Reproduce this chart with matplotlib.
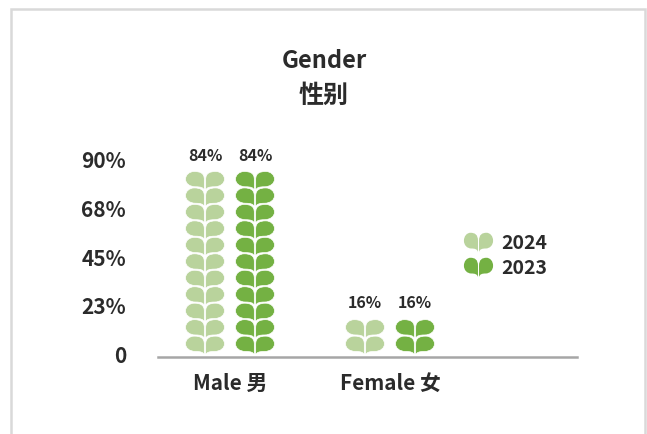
import matplotlib
matplotlib.use('Agg')
import matplotlib.pyplot as plt
from matplotlib.lines import Line2D
from matplotlib.patches import PathPatch, Rectangle
from matplotlib.path import Path
from matplotlib.transforms import Affine2D, ScaledTranslation

categories = ['Male 男', 'Female 女']
series_names = ['2024', '2023']
values_2024 = [84, 16]
values_2023 = [84, 16]
y_ticks = [0, 22.5, 45, 67.5, 90]
y_tick_labels = ['0', '23%', '45%', '68%', '90%']

COLOR_2024 = '#b9d39c'
COLOR_2023 = '#74b143'
TEXT = '#2b2b2b'
CJK = ['Noto Sans CJK TC', 'DejaVu Sans']
UNIT = 7.6
W, H = 647, 434


def heart_path():
    # one pair of leaves, x from -1 to 1, y from -0.15 (tip) to 1
    right = [
        (0.035, -0.15), (0.07, 0.03), (0.25, 0.07), (0.48, 0.07),
        (0.80, 0.07), (1.0, 0.28), (1.0, 0.53),
        (1.0, 0.80), (0.80, 1.0), (0.55, 1.0),
        (0.25, 1.0), (0.035, 0.90), (0.035, 0.52),
    ]
    left = [(-x, y) for x, y in reversed(right)]
    codes = [Path.MOVETO] + [Path.CURVE4] * 12 + [Path.CLOSEPOLY]
    verts_r = right + [right[0]]
    verts_l = left + [left[0]]
    return Path(verts_r + verts_l, codes + codes)


LEAF = heart_path()


def draw_stack(ax, x, value, half_width, color):
    for i in range(int(value // UNIT)):
        tr = Affine2D().scale(half_width, UNIT).translate(x, 1.8 + i * UNIT)
        ax.add_patch(PathPatch(LEAF.transformed(tr), facecolor=color, edgecolor='white',
                               linewidth=0.5, clip_on=False))
    ax.text(x, value + 4.9, f'{value}%', ha='center', va='bottom', fontsize=11.5,
            fontweight='bold', family=CJK, color=TEXT)


fig = plt.figure(figsize=(W / 100, H / 100), dpi=100)
fig.patch.set_facecolor('white')
fig.add_artist(Rectangle((11 / W, -0.05), 634 / W, 1.05 - 9 / H, transform=fig.transFigure,
                         facecolor='white', edgecolor='#d9d9d9', linewidth=1.8, zorder=-5))

ax = fig.add_axes([158 / W, (H - 356.5) / H, 419 / W, 195 / H])
ax.patch.set_alpha(0)
ax.set_xlim(-72 / 160, 347 / 160)
ax.set_ylim(0, 90)

offset = 25 / 160
half_width = 19.5 / 160
for i, (a, b) in enumerate(zip(values_2024, values_2023)):
    draw_stack(ax, i - offset, a, half_width, COLOR_2024)
    draw_stack(ax, i + offset, b, half_width, COLOR_2023)

for side in ['top', 'right', 'left']:
    ax.spines[side].set_visible(False)
ax.spines['bottom'].set_color('#a6a6a6')
ax.spines['bottom'].set_linewidth(1.8)

ax.set_xticks(range(len(categories)))
ax.set_xticklabels(categories, fontsize=15, fontweight='bold', family=CJK, color=TEXT)
ax.set_yticks(y_ticks)
ax.set_yticklabels(y_tick_labels, fontsize=15, fontweight='bold', family=CJK, color=TEXT)
ax.tick_params(axis='x', length=0, pad=12)
ax.tick_params(axis='y', length=0, pad=23)
for label in ax.get_yticklabels():
    label.set_transform(label.get_transform() + ScaledTranslation(0, 2 / 100, fig.dpi_scale_trans))

fig.text(324 / W, 1 - 61 / H, 'Gender', ha='center', va='center', fontsize=17,
         fontweight='bold', family=CJK, color=TEXT)
fig.text(324 / W, 1 - 96 / H, '性别', ha='center', va='center', fontsize=18,
         fontweight='bold', family=CJK, color=TEXT)

marker = Path((LEAF.vertices - [0, 0.425]) * [1, 1.16], LEAF.codes)
handles = [
    Line2D([], [], linestyle='none', marker=marker, markersize=21, color=c, markeredgewidth=0, label=n)
    for c, n in zip([COLOR_2024, COLOR_2023], series_names)
]
ax.legend(handles=handles, loc='center left', bbox_to_anchor=(0.729, 0.517), frameon=False,
          prop={'family': CJK, 'weight': 'bold', 'size': 14}, labelcolor=TEXT,
          handlelength=1.5, handletextpad=0.45, labelspacing=0.3, borderpad=0, borderaxespad=0)

fig.savefig('out.png', dpi=100)
